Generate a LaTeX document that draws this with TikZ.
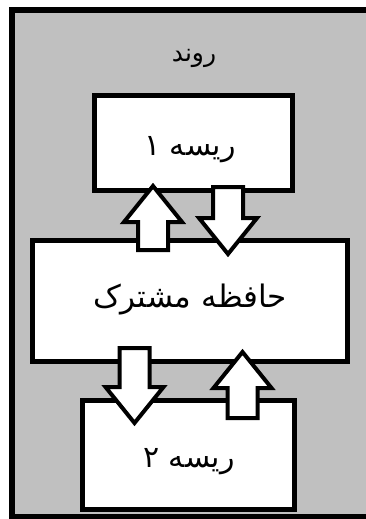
\documentclass[tikz,border=0pt]{standalone}
\usepackage{fontspec}
\usetikzlibrary{calc}
\newfontfamily\arabicfont[Script=Arabic]{DejaVu Sans}
\TeXXeTstate=1
\definecolor{procgray}{RGB}{192,192,192}
% block arrow from tail #1 to tip #2
\newcommand{\fatarrow}[2]{%
  \coordinate (hb) at ($(#2)!36pt!(#1)$);
  \draw[arrowbox] ($(#1)!15pt!90:(#2)$) -- ($(hb)!15pt!90:(#2)$)
    -- ($(hb)!29pt!90:(#2)$) -- (#2) -- ($(hb)!29pt!-90:(#2)$)
    -- ($(hb)!15pt!-90:(#2)$) -- ($(#1)!15pt!-90:(#2)$) -- cycle;
}
\begin{document}
\begin{tikzpicture}[x=1pt,y=-1pt,
  box/.style={draw, fill=white, line width=5pt, inner sep=0pt},
  arrowbox/.style={draw, fill=white, line width=4pt, line join=miter},
  label/.style={font=\arabicfont\fontsize{#1}{#1}\selectfont}]
\useasboundingbox (0,0) rectangle (366,519);
\begin{scope}
\clip (0,0) rectangle (366,519);
\fill[white] (0,0) rectangle (366,519);
\fill[procgray] (12,10) rectangle (420,517);
\draw[line width=6pt] (420,10) -- (12,10) -- (12,517) -- (420,517);
\end{scope}
\node[label=25] (title) at (194,58) {\beginR روند\endR};

\node[box, minimum width=198pt, minimum height=95pt] (thread1) at (193.5,143) {};
\node[box, minimum width=315.5pt, minimum height=120.5pt] (mem) at (189.75,300.75) {};
\node[box, minimum width=212pt, minimum height=109pt] (thread2) at (188.5,454.5) {};

\node[label=30] (t1text) at (190,150) {\beginR ریسه ۱\endR};
\node[label=31] (memtext) at (190,300) {\beginR حافظه مشترک\endR};
\node[label=30] (t2text) at (189,462) {\beginR ریسه ۲\endR};

% arrows between the boxes
\coordinate (u1a) at (153,250);   \coordinate (u1b) at (153,186);
\coordinate (d1a) at (228,187);   \coordinate (d1b) at (228,254);
\coordinate (d2a) at (134.5,348); \coordinate (d2b) at (134.5,423);
\coordinate (u2a) at (242.5,418); \coordinate (u2b) at (242.5,352);
\fatarrow{u1a}{u1b}
\fatarrow{d1a}{d1b}
\fatarrow{d2a}{d2b}
\fatarrow{u2a}{u2b}
\end{tikzpicture}
\end{document}
